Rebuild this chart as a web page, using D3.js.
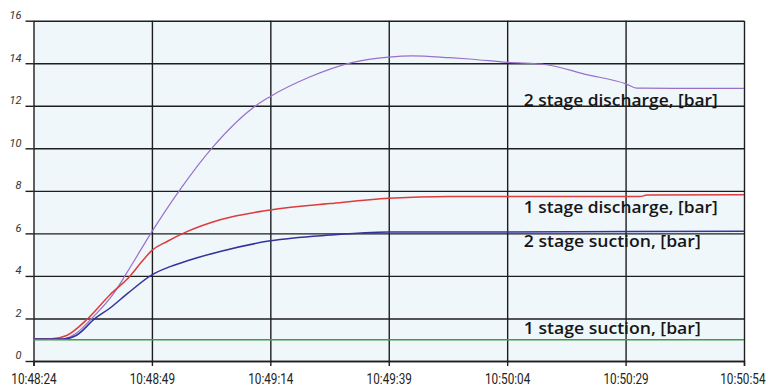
<!DOCTYPE html>
<html>
<head>
<meta charset="utf-8">
<script src="https://cdn.jsdelivr.net/npm/d3@7"></script>
<style>
  html, body { margin: 0; padding: 0; background: #ffffff; }
  svg { display: block; }
</style>
</head>
<body>
<svg id="chart" width="768" height="387"></svg>
<script>
// Compressor pressures over a start-up run, seconds after 10:48:24
const startClock = [10, 48, 24];
const xTickSeconds = [0, 25, 50, 75, 100, 125, 150];
const yTicks = [0, 2, 4, 6, 8, 10, 12, 14, 16];

const stage2DischargeT = [0, 6.2, 9, 12.3, 17.2, 19.3, 21, 25, 30.9, 37.9, 47.8, 50, 58.3, 67.4, 75, 80, 87.9, 92, 100, 108.3, 116.5, 125.2, 127.3, 135, 150];
const stage2DischargeV = [1.03, 1.03, 1.3, 2.0, 3.26, 4.0, 4.62, 6.08, 8.05, 10.07, 12.14, 12.44, 13.35, 14.04, 14.29, 14.35, 14.26, 14.2, 14.04, 13.93, 13.48, 13.02, 12.83, 12.82, 12.82];

const stage1DischargeT = [0, 3.5, 7, 11.5, 16.1, 20.4, 22.8, 25, 28.2, 32.4, 39.4, 50, 62.6, 75, 87.9, 128, 129.5, 150];
const stage1DischargeV = [1.03, 1.03, 1.2, 2.0, 3.1, 4.0, 4.65, 5.2, 5.62, 6.08, 6.64, 7.1, 7.4, 7.65, 7.73, 7.73, 7.8, 7.82];

const stage2SuctionT = [0, 6.2, 9, 13, 16.1, 20, 25, 29, 33, 39.4, 50, 62.6, 75, 100, 150];
const stage2SuctionV = [1.03, 1.03, 1.2, 2.0, 2.48, 3.2, 4.05, 4.45, 4.75, 5.15, 5.65, 5.92, 6.06, 6.07, 6.1];

const stage1SuctionT = [0, 150];
const stage1SuctionV = [1.0, 1.0];

const seriesNames = ["2 stage discharge, [bar]", "1 stage discharge, [bar]", "2 stage suction, [bar]", "1 stage suction, [bar]"];
const seriesColors = ["#9a6fca", "#dd3c3c", "#33339e", "#3f9c45"];

const svg = d3.select("#chart");
const plotLeft = 33.5, plotRight = 744, plotTop = 20.7, plotBottom = 361;

const t0 = Date.UTC(1970, 0, 1, startClock[0], startClock[1], startClock[2]);
const toDate = s => new Date(t0 + s * 1000);

const x = d3.scaleUtc().domain([toDate(0), toDate(150)]).range([plotLeft, plotRight]);
const y = d3.scaleLinear().domain([0, 16]).range([plotBottom, plotTop]);

// plot background
svg.append("rect")
  .attr("x", plotLeft).attr("y", plotTop)
  .attr("width", plotRight - plotLeft).attr("height", plotBottom - plotTop)
  .attr("fill", "#eff7fb");

const xTicks = xTickSeconds.map(toDate);

// horizontal gridlines
svg.append("g")
  .attr("transform", `translate(${plotLeft},0)`)
  .call(d3.axisLeft(y).tickValues(yTicks).tickSize(-(plotRight - plotLeft)).tickFormat(""))
  .call(g => g.select(".domain").remove())
  .call(g => g.selectAll("line").attr("stroke", "#1e1e1e").attr("stroke-width", 1.4));

// vertical gridlines
svg.append("g")
  .attr("transform", `translate(0,${plotBottom})`)
  .call(d3.axisBottom(x).tickValues(xTicks).tickSize(-(plotBottom - plotTop)).tickFormat(""))
  .call(g => g.select(".domain").remove())
  .call(g => g.selectAll("line").attr("stroke", "#1e1e1e").attr("stroke-width", 1.4));

// y axis ticks and labels
svg.append("g")
  .attr("transform", `translate(${plotLeft},0)`)
  .call(d3.axisLeft(y).tickValues(yTicks).tickSize(8).tickPadding(4))
  .call(g => g.select(".domain").remove())
  .call(g => g.selectAll("line").attr("stroke", "#1e1e1e").attr("stroke-width", 1.4))
  .call(g => g.selectAll("text")
    .attr("dy", "-0.2em")
    .attr("font-family", "Roboto, 'DejaVu Sans', sans-serif")
    .attr("font-style", "italic")
    .attr("font-size", 11)
    .attr("fill", "#333"));

// x axis ticks and labels, horizontally condensed
const fmt = d3.utcFormat("%H:%M:%S");
const squeeze = 0.84;
svg.append("g")
  .attr("transform", `translate(0,${plotBottom})`)
  .call(d3.axisBottom(x).tickValues(xTicks).tickSize(5).tickPadding(8).tickFormat(fmt))
  .call(g => g.select(".domain").attr("stroke", "#1e1e1e").attr("stroke-width", 1.4))
  .call(g => g.selectAll("line").attr("stroke", "#1e1e1e").attr("stroke-width", 1.4))
  .call(g => g.selectAll("text")
    .attr("font-family", "Roboto, sans-serif")
    .attr("font-size", 14)
    .attr("fill", "#222")
    .attr("transform", `scale(${squeeze},1)`))
  // keep the last time label inside the canvas
  .call(g => g.selectAll(".tick:last-of-type text")
    .attr("text-anchor", "end")
    .attr("dx", 21 / squeeze));

// series lines
const series = [
  { t: stage2DischargeT, v: stage2DischargeV },
  { t: stage1DischargeT, v: stage1DischargeV },
  { t: stage2SuctionT, v: stage2SuctionV },
  { t: stage1SuctionT, v: stage1SuctionV }
];

const line = d3.line()
  .x(d => x(toDate(d[0])))
  .y(d => y(d[1]))
  .curve(d3.curveMonotoneX);

series.forEach((s, i) => {
  svg.append("path")
    .datum(s.t.map((t, k) => [t, s.v[k]]))
    .attr("fill", "none")
    .attr("stroke", seriesColors[i])
    .attr("stroke-width", i === 0 ? 1.2 : 1.5)
    .attr("d", line);
});

// series labels placed beside the right end of each line
const labelX = x(toDate(103.5));
const labelBaseline = [12.0, 6.95, 5.35, 1.27];
seriesNames.forEach((name, i) => {
  svg.append("text")
    .attr("x", labelX)
    .attr("y", y(labelBaseline[i]))
    .attr("font-family", "'Open Sans', sans-serif")
    .attr("font-weight", 600)
    .attr("font-size", 16)
    .attr("fill", "#161616")
    .attr("textLength", i < 2 ? 194 : 177)
    .attr("lengthAdjust", "spacingAndGlyphs")
    .text(name);
});
</script>
</body>
</html>
